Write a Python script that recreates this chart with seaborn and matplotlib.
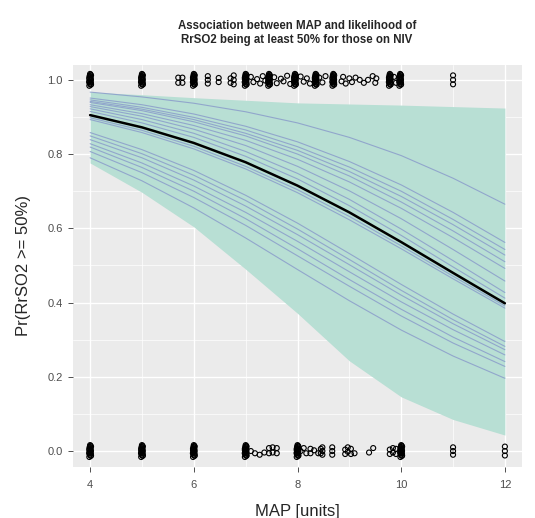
import matplotlib
matplotlib.use("Agg")
import matplotlib.pyplot as plt
import pandas as pd
import numpy as np
import seaborn as sns

# valeurs, a x = 4, 5, ..., 12
x_curve = [4, 5, 6, 7, 8, 9, 10, 11, 12]
fit_mean = [0.905, 0.872, 0.830, 0.778, 0.715, 0.643, 0.563, 0.480, 0.398]

# tirages (courbes bleues), une liste par tirage
draws = [
    [0.967, 0.954, 0.937, 0.914, 0.884, 0.845, 0.796, 0.735, 0.665],
    [0.951, 0.933, 0.908, 0.875, 0.833, 0.780, 0.717, 0.643, 0.562],
    [0.946, 0.926, 0.899, 0.865, 0.820, 0.765, 0.700, 0.624, 0.543],
    [0.942, 0.921, 0.893, 0.856, 0.810, 0.753, 0.686, 0.610, 0.528],
    [0.939, 0.917, 0.887, 0.849, 0.800, 0.741, 0.671, 0.593, 0.510],
    [0.933, 0.909, 0.877, 0.837, 0.786, 0.725, 0.654, 0.575, 0.492],
    [0.928, 0.902, 0.867, 0.823, 0.767, 0.701, 0.626, 0.543, 0.458],
    [0.922, 0.893, 0.856, 0.807, 0.748, 0.678, 0.598, 0.513, 0.427],
    [0.915, 0.884, 0.845, 0.794, 0.733, 0.661, 0.581, 0.496, 0.412],
    [0.898, 0.864, 0.821, 0.767, 0.704, 0.632, 0.553, 0.471, 0.391],
    [0.893, 0.858, 0.814, 0.760, 0.696, 0.623, 0.545, 0.464, 0.385],
    [0.858, 0.812, 0.756, 0.689, 0.614, 0.532, 0.449, 0.369, 0.295],
    [0.849, 0.801, 0.743, 0.675, 0.598, 0.516, 0.433, 0.354, 0.282],
    [0.839, 0.790, 0.730, 0.660, 0.583, 0.502, 0.420, 0.343, 0.273],
    [0.828, 0.776, 0.714, 0.643, 0.565, 0.483, 0.402, 0.327, 0.259],
    [0.819, 0.764, 0.700, 0.626, 0.545, 0.462, 0.382, 0.307, 0.241],
    [0.807, 0.750, 0.683, 0.608, 0.526, 0.444, 0.364, 0.291, 0.228],
    [0.790, 0.728, 0.655, 0.574, 0.489, 0.405, 0.326, 0.256, 0.196],
]

# bande d'incertitude
band_low = [0.776, 0.697, 0.604, 0.490, 0.371, 0.243, 0.146, 0.085, 0.043]
band_high = [0.967, 0.960, 0.952, 0.945, 0.938, 0.935, 0.932, 0.928, 0.924]

# observations (y = 1 et y = 0) : piles a valeurs entieres + points isoles
stack_dy = [-0.016, -0.013, -0.010, -0.007, -0.004, -0.001, 0.002, 0.005, 0.008, 0.011, 0.014, 0.016,
            -0.012, -0.006, 0.0, 0.006, 0.012]
stack_dx = [-0.015, 0.012, -0.006, 0.015, -0.012, 0.006, -0.015, 0.012, 0.0, -0.008, 0.008, 0.0,
            0.018, -0.018, 0.016, -0.016, 0.018]

top_stacks = [4, 5, 6, 7.0, 7.45, 7.95, 8.35, 8.69, 9.78, 9.98]
top_x = [5.70, 5.70, 5.78, 5.78, 6.27, 6.27, 6.27, 6.48, 6.48, 6.71, 6.71, 6.77, 6.77, 6.77,
         7.10, 7.15, 7.22, 7.28, 7.33, 7.38, 7.55, 7.60, 7.68, 7.73, 7.80, 7.86,
         8.06, 8.12, 8.18, 8.24, 8.42, 8.48, 8.54,
         8.85, 8.88, 8.93, 9.00, 9.05, 9.12, 9.20, 9.28, 9.36, 9.45, 9.50, 9.52,
         9.86, 9.90, 11, 11, 11]
top_dy = [0.006, -0.008, 0.006, -0.008, 0.010, 0.0, -0.010, 0.005, -0.006, 0.004, -0.008, 0.012, 0.0, -0.012,
          0.008, -0.006, 0.002, -0.010, 0.010, -0.002, 0.007, -0.009, 0.003, -0.004, 0.011, -0.011,
          0.009, -0.005, 0.004, -0.010, 0.006, -0.007, 0.010,
          -0.004, 0.008, -0.010, 0.004, -0.006, 0.006, 0.0, -0.008, 0.0, 0.010, -0.008, 0.004,
          0.008, -0.008, 0.012, 0.0, -0.012]

bottom_stacks = [4, 5, 6, 7, 8, 10]
bottom_x = [7.10, 7.18, 7.27, 7.36, 7.45, 7.45, 7.52, 7.52, 7.60, 7.60,
            8.06, 8.12, 8.17, 8.25, 8.25, 8.32, 8.40, 8.45, 8.45, 8.48, 8.48, 8.48, 8.67, 8.67, 8.67,
            8.92, 8.92, 8.97, 8.97, 9.03, 9.03, 9.10, 9.38, 9.46,
            9.78, 9.78, 9.84, 9.84, 9.90, 9.90, 11, 11, 11, 12, 12, 12]
bottom_dy = [0.0, -0.006, -0.010, -0.004, 0.008, -0.006, 0.010, -0.004, 0.008, -0.006,
             0.0, 0.008, -0.006, 0.006, -0.006, 0.002, -0.006, 0.006, -0.006, 0.010, 0.0, -0.010, 0.010, 0.0, -0.010,
             0.004, -0.008, 0.010, -0.002, 0.006, -0.008, -0.006, -0.004, 0.008,
             0.004, -0.008, 0.008, -0.004, 0.006, -0.008, 0.010, 0.0, -0.010, 0.012, 0.0, -0.012]

# tables pour seaborn
df_draws = pd.DataFrame([
    {"x": x, "p": v, "draw": i}
    for i, d in enumerate(draws) for x, v in zip(x_curve, d)
])
df_mean = pd.DataFrame({"x": x_curve, "p": fit_mean})

pts = []
for xs in top_stacks:
    pts += [(xs + dx, 1 + dy) for dx, dy in zip(stack_dx, stack_dy)]
pts += [(x, 1 + dy) for x, dy in zip(top_x, top_dy)]
for xs in bottom_stacks:
    pts += [(xs + dx, dy) for dx, dy in zip(stack_dx, stack_dy)]
pts += [(x, dy) for x, dy in zip(bottom_x, bottom_dy)]
df_pts = pd.DataFrame(pts, columns=["x", "y"])

# style
sns.set_style("darkgrid", {"axes.facecolor": "#EBEBEB", "grid.color": "white"})
plt.rcParams["font.family"] = ["Liberation Sans", "DejaVu Sans"]

fig = plt.figure(figsize=(5.35, 5.18), dpi=100)
ax = fig.add_axes([73 / 535, 1 - 467 / 518, 449 / 535, 402 / 518])

ax.fill_between(x_curve, band_low, band_high, color="#B8DFD4", linewidth=0, zorder=1)
sns.lineplot(data=df_draws, x="x", y="p", units="draw", estimator=None,
             color="#8DA0CB", linewidth=0.8, alpha=0.9, ax=ax, zorder=2)
sns.lineplot(data=df_mean, x="x", y="p", color="black", linewidth=1.8, ax=ax, zorder=3)
sns.scatterplot(data=df_pts, x="x", y="y", marker="o", s=13, facecolor="none",
                edgecolor="black", linewidth=0.8, ax=ax, zorder=4)

ax.set_xlim(3.67, 12.33)
ax.set_ylim(-0.043, 1.04)
ax.set_xticks([4, 6, 8, 10, 12])
ax.set_xticks([5, 7, 9, 11], minor=True)
ax.set_yticks([0, 0.2, 0.4, 0.6, 0.8, 1.0])
ax.set_yticks([0.1, 0.3, 0.5, 0.7, 0.9], minor=True)
ax.set_yticklabels(["0.0", "0.2", "0.4", "0.6", "0.8", "1.0"])
ax.grid(which="major", color="white", linewidth=1.0)
ax.grid(which="minor", color="white", linewidth=0.5)
ax.set_axisbelow(True)
for s in ax.spines.values():
    s.set_visible(False)
ax.tick_params(which="major", length=3.5, width=0.6, color="#333333",
               labelsize=8, labelcolor="#4D4D4D", pad=4, bottom=True, left=True)
ax.tick_params(axis="x", which="major", pad=6)
ax.tick_params(which="minor", length=0)

ax.set_xlabel("MAP [units]", fontsize=12, labelpad=10)
ax.set_ylabel("Pr(RrSO2 >= 50%)", fontsize=12, labelpad=12)
fig.text(297 / 535, 1 - 33 / 518, "Association between MAP and likelihood of\nRrSO2 being at least 50% for those on NIV",
         ha="center", va="center", fontsize=8.3, fontweight="bold", linespacing=1.25)

fig.savefig("out.png", dpi=100)
